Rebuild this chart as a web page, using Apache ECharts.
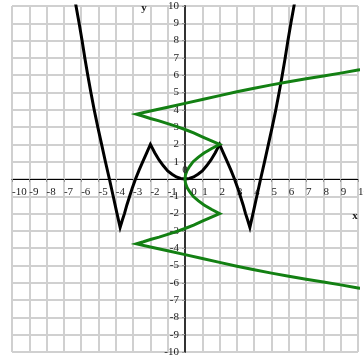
<!DOCTYPE html>
<html>
<head>
<meta charset="utf-8">
<script src="https://cdn.jsdelivr.net/npm/echarts@6/dist/echarts.min.js"></script>
<style>
  html, body { margin: 0; padding: 0; background: #fff; }
  #chart { width: 364px; height: 358px; }
</style>
</head>
<body>
<div id="chart"></div>
<script>
// axis range, one grid line per unit
const axisMin = -10
const axisMax = 10
const axisStep = 1

// black curve, points (left to right)
const blackX = [-6.39, -6.3, -6.12, -5.95, -5.79, -5.62, -5.44, -5.25, -5.04, -4.82, -4.6, -4.37, -4.15, -3.93, -3.75,
  -3.63, -3.5, -3.36, -3.2, -3.04, -2.86, -2.66, -2.44, -2.22, -2,
  -1.75, -1.5, -1.25, -1, -0.75, -0.5, -0.25, 0, 0.25, 0.5, 0.75, 1, 1.25, 1.5, 1.75,
  2, 2.22, 2.44, 2.66, 2.86, 3.04, 3.2, 3.36, 3.5, 3.63,
  3.75, 3.93, 4.15, 4.37, 4.6, 4.82, 5.04, 5.25, 5.44, 5.62, 5.79, 5.95, 6.12, 6.3, 6.39]
const blackY = [10.5, 10, 9, 8, 7, 6, 5, 4, 3, 2, 1, 0, -1, -2, -2.8,
  -2.4, -2, -1.5, -1, -0.5, 0, 0.5, 1, 1.5, 2,
  1.52, 1.1, 0.76, 0.47, 0.28, 0.12, 0.03, 0, 0.03, 0.12, 0.28, 0.47, 0.76, 1.1, 1.52,
  2, 1.5, 1, 0.5, 0, -0.5, -1, -1.5, -2, -2.4,
  -2.8, -2, -1, 0, 1, 2, 3, 4, 5, 6, 7, 8, 9, 10, 10.5]

// green curve, points (top to bottom)
const greenX = [10.5, 10, 9, 8, 7, 6, 5, 4, 3, 2, 1, 0, -1, -2, -2.8,
  -2.4, -2, -1.5, -1, -0.5, 0, 0.5, 1, 1.5, 2,
  1.52, 1.1, 0.76, 0.47, 0.28, 0.12, 0.03, 0, 0.03, 0.12, 0.28, 0.47, 0.76, 1.1, 1.52,
  2, 1.5, 1, 0.5, 0, -0.5, -1, -1.5, -2, -2.4,
  -2.8, -2, -1, 0, 1, 2, 3, 4, 5, 6, 7, 8, 9, 10, 10.5]
const greenY = [6.39, 6.3, 6.12, 5.95, 5.79, 5.62, 5.44, 5.25, 5.04, 4.82, 4.6, 4.37, 4.15, 3.93, 3.75,
  3.63, 3.5, 3.36, 3.2, 3.04, 2.86, 2.66, 2.44, 2.22, 2,
  1.75, 1.5, 1.25, 1, 0.75, 0.5, 0.25, 0, -0.25, -0.5, -0.75, -1, -1.25, -1.5, -1.75,
  -2, -2.22, -2.44, -2.66, -2.86, -3.04, -3.2, -3.36, -3.5, -3.63,
  -3.75, -3.93, -4.15, -4.37, -4.6, -4.82, -5.04, -5.25, -5.44, -5.62, -5.79, -5.95, -6.12, -6.3, -6.39]

const serif = '"Liberation Serif", "DejaVu Serif", serif'
const textColor = '#222'

// plot area in pixels
const gridLeft = 12
const gridTop = 6
const gridSize = 346

const chart = echarts.init(document.getElementById('chart'))

// hide the 0 labels, they are placed by hand below
const tickLabel = v => (v === 0 ? '' : String(v))

const option = {
  animation: false,
  backgroundColor: '#fff',
  grid: {
    left: gridLeft,
    top: gridTop,
    width: gridSize,
    height: gridSize,
    containLabel: false,
    outerBoundsMode: 'none'
  },
  xAxis: {
    type: 'value',
    min: axisMin,
    max: axisMax,
    interval: axisStep,
    position: 'bottom',
    // move the axis (and its labels) up to y = 0
    offset: -gridSize / 2,
    axisLine: { onZero: false, lineStyle: { color: '#000', width: 1 } },
    axisTick: { show: true, length: 3, lineStyle: { color: '#999' } },
    splitLine: { show: true, lineStyle: { color: '#d0d0d0', width: 2 } },
    axisLabel: {
      formatter: tickLabel,
      showMinLabel: true,
      showMaxLabel: true,
      align: 'left',
      verticalAlign: 'top',
      margin: 8,
      fontFamily: serif,
      fontSize: 11,
      color: textColor
    }
  },
  yAxis: {
    type: 'value',
    min: axisMin,
    max: axisMax,
    interval: axisStep,
    position: 'left',
    // move the axis (and its labels) right to x = 0
    offset: -gridSize / 2,
    axisLine: { onZero: false, lineStyle: { color: '#333', width: 2 } },
    axisTick: { show: true, length: 3, lineStyle: { color: '#999' } },
    splitLine: { show: true, lineStyle: { color: '#d0d0d0', width: 2 } },
    axisLabel: {
      formatter: tickLabel,
      showMinLabel: true,
      showMaxLabel: true,
      align: 'right',
      verticalAlign: 'middle',
      padding: [7, 0, 0, 0],
      margin: 6,
      fontFamily: serif,
      fontSize: 11,
      color: textColor
    }
  },
  series: [
    {
      name: 'black',
      type: 'line',
      showSymbol: false,
      data: blackX.map((x, i) => [x, blackY[i]]),
      lineStyle: { color: '#000', width: 3, join: 'miter' },
      z: 3
    },
    {
      name: 'green',
      type: 'line',
      showSymbol: false,
      data: greenX.map((x, i) => [x, greenY[i]]),
      lineStyle: { color: '#138013', width: 3, join: 'miter' },
      z: 4
    }
  ]
}
chart.setOption(option)

// axis names and the two 0 labels
const origin = chart.convertToPixel({ gridIndex: 0 }, [0, 0])
const corner = chart.convertToPixel({ gridIndex: 0 }, [axisMax, axisMax])
const labelText = (text, x, y, bold) => ({
  type: 'text',
  x,
  y,
  z: 100,
  zlevel: 1,
  style: {
    text,
    fill: textColor,
    font: (bold ? 'bold ' : '') + '11px ' + serif,
    align: 'center',
    verticalAlign: 'middle'
  }
})
chart.setOption({
  graphic: [
    labelText('0', origin[0], origin[1] - 9),
    labelText('0', origin[0] + 9, origin[1] + 13),
    labelText('x', corner[0] - 3, origin[1] + 37, true),
    labelText('y', origin[0] - 41, corner[1] + 2, true)
  ]
})
</script>
</body>
</html>
